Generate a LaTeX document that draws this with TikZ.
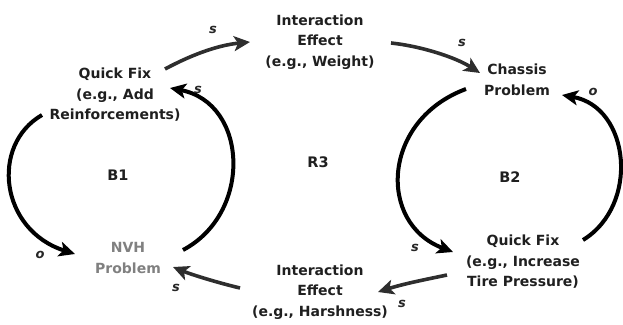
\documentclass[tikz,border=0pt]{standalone}
\usepackage{fontspec}
\setmainfont{DejaVu Sans}
\usetikzlibrary{arrows.meta,calc}
\begin{document}
\begin{tikzpicture}[x=1pt,y=-1pt,
  var/.style={align=center,font=\fontsize{14}{20.5}\selectfont\bfseries,text=black!88,inner sep=0pt},
  loopname/.style={font=\fontsize{14.5}{16}\selectfont\bfseries,text=black!88},
  pol/.style={font=\fontsize{13}{14}\selectfont\itshape\bfseries,text=black!85},
  link/.style={line width=4pt,-{Stealth[length=16pt,width=15pt,inset=4pt]}},
  thin/.style={link,draw=black!82,line width=3.6pt},
]
\useasboundingbox (0,0) rectangle (623,324);
% variables
\node[var] (ie1) at (320,42) {Interaction\\Effect\\(e.g., Weight)};
\node[var] (qf1) at (115,95) {Quick Fix\\(e.g., Add\\Reinforcements)};
\node[var] (ch)  at (517,80) {Chassis\\Problem};
\node[var] (qf2) at (523,262) {Quick Fix\\(e.g., Increase\\Tire Pressure)};
\node[var] (ie2) at (320,292) {Interaction\\Effect\\(e.g., Harshness)};
\node[var,text=black!50] (nvh) at (128,258) {NVH\\Problem};
% loop names
\node[loopname] (b1) at (118,175) {B1};
\node[loopname] (r3) at (318,162) {R3};
\node[loopname] (b2) at (510,177) {B2};
% links
\draw[thin] ($(qf1)+(50,-26)$) .. controls ($(qf1)+(80,-42)$) and ($(qf1)+(105,-50)$) .. ($(ie1)+(-70,0)$);
\draw[thin] ($(ie1)+(71,1)$) .. controls ($(ie1)+(100,4)$) and ($(ie1)+(135,15)$) .. ($(ch)+(-37,-7)$);
\draw[link] ($(ch)+(-51,9)$) .. controls ($(ch)+(-135,40)$) and ($(ch)+(-140,143)$) .. ($(qf2)+(-70,-10)$);
\draw[link] ($(qf2)+(60,-22)$) .. controls ($(qf2)+(117,-57)$) and ($(qf2)+(107,-155)$) .. ($(ch)+(45,15)$);
\draw[thin] ($(qf2)+(-76,13)$) .. controls ($(qf2)+(-100,18)$) and ($(qf2)+(-120,22)$) .. ($(ie2)+(58,0)$);
\draw[thin] ($(ie2)+(-80,-4)$) .. controls ($(ie2)+(-105,-10)$) and ($(ie2)+(-130,-18)$) .. ($(nvh)+(45,9)$);
\draw[link] ($(nvh)+(55,-8)$) .. controls ($(nvh)+(125,-45)$) and ($(nvh)+(120,-155)$) .. ($(qf1)+(55,-7)$);
\draw[link] ($(qf1)+(-73,20)$) .. controls ($(qf1)+(-125,50)$) and ($(qf1)+(-115,135)$) .. ($(nvh)+(-53,-4)$);
% polarities
\node[pol] at (213,30) {s};
\node[pol] at (462,43) {s};
\node[pol] at (415,248) {s};
\node[pol] at (593,92) {o};
\node[pol] at (402,304) {s};
\node[pol] at (176,288) {s};
\node[pol] at (198,90) {s};
\node[pol] at (40,255) {o};
\end{tikzpicture}
\end{document}
